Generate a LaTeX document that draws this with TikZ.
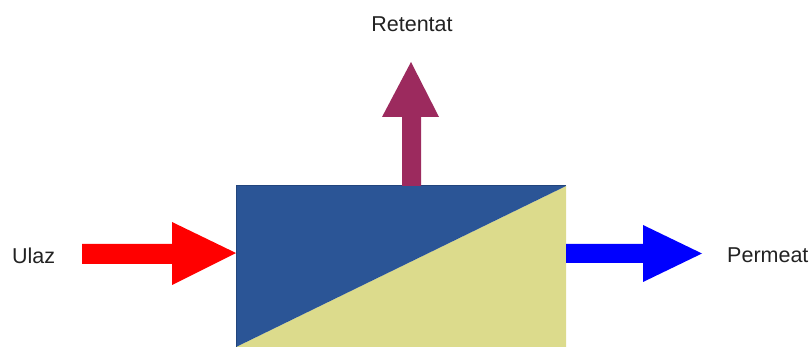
\documentclass[tikz,border=0pt]{standalone}
\usepackage{fontspec}
\setmainfont{Liberation Sans}
\definecolor{boxblue}{HTML}{2B5596}
\definecolor{boxedge}{HTML}{22457D}
\definecolor{boxyellow}{HTML}{DCDB8C}
\definecolor{retcol}{HTML}{9C2A5E}
\definecolor{txtcol}{HTML}{222222}
\tikzset{
  lbl/.style={font=\fontsize{21.5}{25}\selectfont, text=txtcol, inner sep=0pt},
}
\begin{document}
\begin{tikzpicture}[x=1pt,y=-1pt]
\useasboundingbox (0,0) rectangle (811,347);
% box
\coordinate (tl) at (236,186);
\coordinate (tr) at (566,186);
\coordinate (br) at (566,347);
\coordinate (bl) at (236,347);
\fill[boxyellow] (bl) -- (tr) -- (br) -- cycle;
\fill[boxblue] (tl) -- (tr) -- (bl) -- cycle;
\draw[boxedge, line width=1pt] (bl) -- (tl) -- (tr);
% red arrow (Ulaz)
\fill[red] (82,244) -- (172,244) -- (172,222) -- (236,253) -- (172,285) -- (172,264) -- (82,264) -- cycle;
% blue arrow (Permeat)
\fill[blue] (566,244) -- (643,244) -- (643,225) -- (702,253.5) -- (643,282) -- (643,263) -- (566,263) -- cycle;
% retentat arrow
\fill[retcol] (402,186) -- (402,117) -- (382,117) -- (411,62) -- (439,117) -- (421,117) -- (421,186) -- cycle;
% labels
\node[lbl, anchor=west] (ulaz) at (12,256) {Ulaz};
\node[lbl, anchor=west] (perm) at (727,255) {Permeat};
\node[lbl] (ret) at (412,24) {Retentat};
\end{tikzpicture}
\end{document}
